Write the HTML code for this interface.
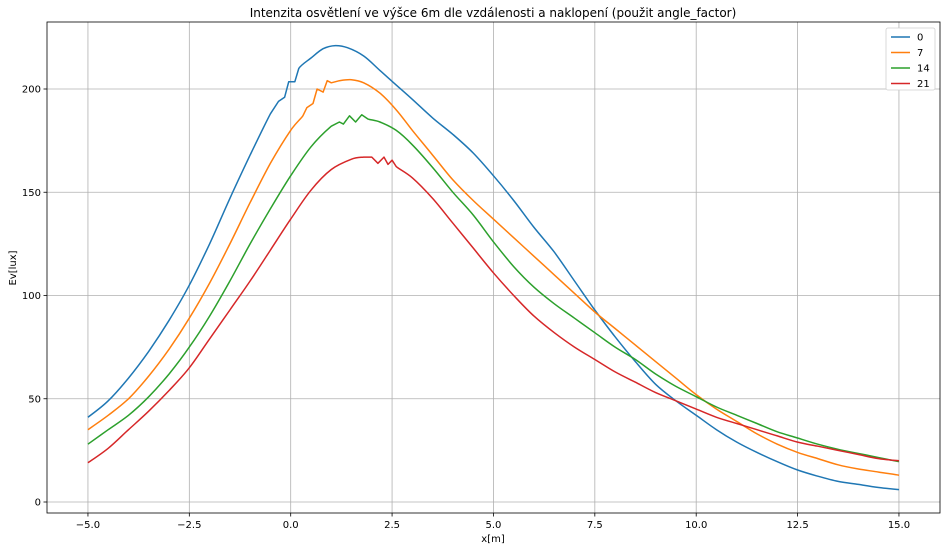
<!DOCTYPE html>
<html><head><meta charset="utf-8"><style>
body{margin:0;background:#fff;font-family:"Liberation Sans","DejaVu Sans",sans-serif}
svg text{font-family:"DejaVu Sans","Liberation Sans",sans-serif;font-size:10px;fill:#000}
</style></head><body>
<svg id="chart" width="947" height="550" xmlns="http://www.w3.org/2000/svg">
<rect width="947" height="550" fill="#fff"/>
<text x="493" y="17" text-anchor="middle" style="font-size:12px">Intenzita osvětlení ve výšce 6m dle vzdálenosti a naklopení (použit angle_factor)</text>
<g id="grid"></g><g id="series"></g><g id="axes"></g>
<text x="493" y="542" text-anchor="middle">x[m]</text>
<text transform="translate(16,268) rotate(-90)" text-anchor="middle">Ev[lux]</text>
<g id="legend"></g>
</svg>
<script>
const labels=["0","7","14","21"];
const colors=["#1f77b4","#ff7f0e","#2ca02c","#d62728"];
const xTicks=[-5,-2.5,0,2.5,5,7.5,10,12.5,15];
const xTickLabels=["−5.0","−2.5","0.0","2.5","5.0","7.5","10.0","12.5","15.0"];
const yTicks=[0,50,100,150,200];
const x0=[-5,-4.5,-4,-3.5,-3,-2.5,-2,-1.5,-1,-0.5,-0.3,-0.15,-0.05,0.1,0.2,0.5,0.8,1.1,1.4,1.8,2.2,2.6,3,3.5,4,4.5,5,5.5,6,6.5,7,7.5,8,8.5,9,9.5,10,10.5,11,11.5,12,12.5,13,13.5,14,14.5,15];
const y0=[41,49,60,73,88,105,125,147,168,188,194,196,203.5,203.5,210,215,219.5,221,220,216,209,202,195,186,178,169,158,146,133,121,107,93,80,68,57,49,42,35,29,24,19.5,15.5,12.5,10,8.5,7,6];
const x7=[-5,-4.5,-4,-3.5,-3,-2.5,-2,-1.5,-1,-0.5,0,0.3,0.4,0.55,0.65,0.8,0.9,1,1.2,1.5,1.8,2.2,2.6,3,3.5,4,4.5,5,5.5,6,6.5,7,7.5,8,8.5,9,9.5,10,10.5,11,11.5,12,12.5,13,13.5,14,14.5,15];
const y7=[35,42,50,61,74,89,106,125,145,164,180,187,191,193,200,198.5,204,203,204,204.5,203,198,190,180,168,156,146,137,128,119,110,101,92,84,76,68,60,52,45,39,33,28,24,21,18,16,14.5,13];
const x14=[-5,-4.5,-4,-3.5,-3,-2.5,-2,-1.5,-1,-0.5,0,0.5,1,1.2,1.3,1.45,1.6,1.75,1.9,2.2,2.6,3,3.5,4,4.5,5,5.5,6,6.5,7,7.5,8,8.5,9,9.5,10,10.5,11,11.5,12,12.5,13,13.5,14,14.5,15];
const y14=[28,35,42,51,62,75,90,107,125,142,158,172,182,184,183,187,184,187.5,185.5,184,180,173,162,150,139,126,114,104,96,89,82,75,69,62,56,51,46,42,38,34,31,28,25.5,23.5,21.5,19.5];
const x21=[-5,-4.5,-4,-3.5,-3,-2.5,-2,-1.5,-1,-0.5,0,0.5,1,1.5,1.8,2,2.15,2.3,2.4,2.5,2.6,3,3.5,4,4.5,5,5.5,6,6.5,7,7.5,8,8.5,9,9.5,10,10.5,11,11.5,12,12.5,13,13.5,14,14.5,15];
const y21=[19,26,35,44,54,65,79,93,107,122,137,151,161,166,167,167,164,167,163.5,165.5,162.5,157,147,135,123,111,100,90,82,75,69,63,58,53,49,45,41,38,35,32,29,27,25,23,21,20];
const XS=[x0,x7,x14,x21], YS=[y0,y7,y14,y21];
const L=47,R=940,T=22,B=513;
const sx=v=>290.7+v*40.55, sy=v=>502-v*2.065;
const NS="http://www.w3.org/2000/svg";
function mk(tag,attrs,parent){const e=document.createElementNS(NS,tag);for(const k in attrs)e.setAttribute(k,attrs[k]);parent.appendChild(e);return e;}
function smooth(P){let d='M'+P[0][0].toFixed(1)+','+P[0][1].toFixed(1);
 for(let i=0;i<P.length-1;i++){const p0=P[Math.max(0,i-1)],p1=P[i],p2=P[i+1],p3=P[Math.min(P.length-1,i+2)];
  const dx=p2[0]-p1[0];
  if(dx<12){d+='L'+p2[0].toFixed(1)+','+p2[1].toFixed(1);continue;}
  const c1=[p1[0]+(p2[0]-p0[0])/6,p1[1]+(p2[1]-p0[1])/6],c2=[p2[0]-(p3[0]-p1[0])/6,p2[1]-(p3[1]-p1[1])/6];
  d+='C'+c1.map(v=>v.toFixed(1)).join(',')+' '+c2.map(v=>v.toFixed(1)).join(',')+' '+p2[0].toFixed(1)+','+p2[1].toFixed(1);}
 return d;}
const grid=document.getElementById('grid'),axes=document.getElementById('axes'),ser=document.getElementById('series'),leg=document.getElementById('legend');
xTicks.forEach((t,i)=>{const x=sx(t);
 const g=mk('line',{x1:x,x2:x,y1:T,y2:B,stroke:'#b0b0b0','stroke-width':0.8},grid);
 
 
 mk('line',{x1:x,x2:x,y1:B,y2:B+3.5,stroke:'#000','stroke-width':0.8},axes);
 const tx=mk('text',{x:x,y:B+15,'text-anchor':'middle'},axes);tx.textContent=xTickLabels[i];
 
 });
yTicks.forEach(t=>{const y=sy(t);
 const g=mk('line',{x1:L,x2:R,y1:y,y2:y,stroke:'#b0b0b0','stroke-width':0.8},grid);
 
 
 mk('line',{x1:L-3.5,x2:L,y1:y,y2:y,stroke:'#000','stroke-width':0.8},axes);
 const tx=mk('text',{x:L-6,y:y+3.5,'text-anchor':'end'},axes);tx.textContent=t;
 
 });
const fr=mk('rect',{x:L,y:T,width:R-L,height:B-T,fill:'none',stroke:'#000','stroke-width':0.8},axes);


XS.forEach((xs,s)=>{const P=xs.map((x,i)=>[sx(x),sy(YS[s][i])]);
 const p=mk('path',{d:smooth(P),fill:'none',stroke:colors[s],'stroke-width':1.5,'stroke-linejoin':'round'},ser);
 
 });
const lb=mk('rect',{x:886,y:28,width:49,height:62,rx:2,fill:'#fff',stroke:'#d0d0d0','stroke-width':0.8},leg);


labels.forEach((l,i)=>{const y=37+i*15.5;
 const ln=mk('line',{x1:891,x2:910,y1:y,y2:y,stroke:colors[i],'stroke-width':1.5},leg);
 
 
 const tx=mk('text',{x:917,y:y+3.5},leg);tx.textContent=l;
 
 });
</script>
</body></html>
